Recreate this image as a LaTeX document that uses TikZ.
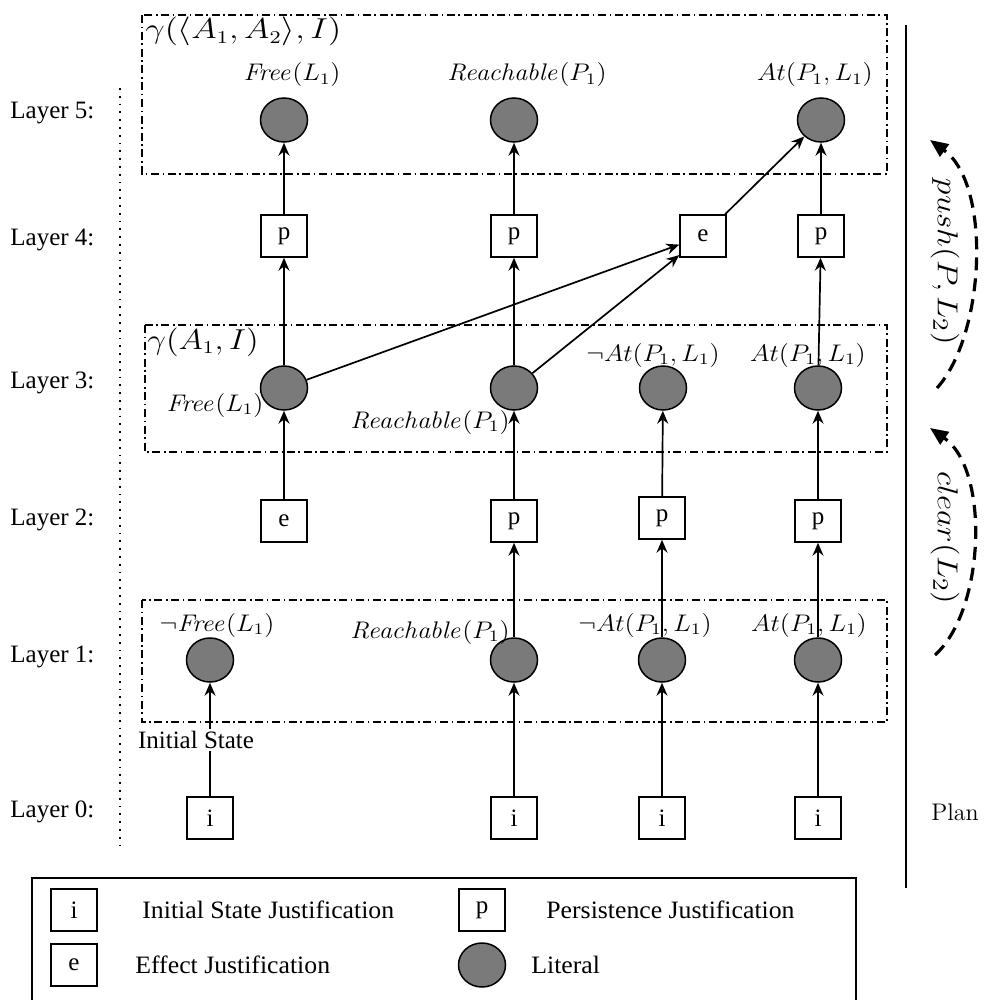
\documentclass[tikz,border=0pt]{standalone}
\usepackage[no-math]{fontspec}
\usepackage{graphicx}
\usetikzlibrary{shapes.geometric,arrows.meta}
\newfontfamily\tim{Liberation Serif}
\newcommand\hsc[2]{\scalebox{#1}[1]{#2}}
\newcommand\lt[1]{\hsc{1.1}{$#1$}}
\begin{document}
\begin{tikzpicture}[x=0.5pt,y=-0.5pt,
  arr/.style={-{Stealth[length=6.5pt,width=5.5pt,inset=2.2pt]}, line width=0.85pt},
  lit/.style={ellipse, draw, line width=0.75pt, fill=black!52, minimum width=23.5pt, minimum height=22pt, inner sep=0pt},
  jbox/.style={rectangle, draw, line width=0.75pt, fill=white, minimum width=23pt, minimum height=21pt, inner sep=0pt, font=\tim\fontsize{12.5}{14}\selectfont},
  lab/.style={inner sep=0pt, font=\fontsize{11.5}{13}\selectfont},
  glab/.style={inner sep=0pt, font=\fontsize{13.5}{16}\selectfont},
  layer/.style={anchor=west, inner sep=0pt, font=\tim\fontsize{12.5}{14}\selectfont},
  legtext/.style={anchor=west, inner sep=0pt, font=\tim\fontsize{12.5}{14}\selectfont},
  region/.style={draw, line width=0.75pt, dash pattern=on 4pt off 1.8pt on 0.8pt off 1.8pt},
  dotline/.style={line width=0.9pt, dash pattern=on 0.9pt off 3pt},
  curv/.style={line width=1.6pt, dash pattern=on 6.5pt off 4pt, -{Triangle[length=9pt,width=7.5pt]}},
  rot/.style={inner sep=0pt, rotate=-90, font=\fontsize{15}{18}\selectfont},
]
\useasboundingbox (0,0) rectangle (994,1000);

% layer labels
\node[layer] (ly5) at (10,113) {Layer 5:};
\node[layer] (ly4) at (10,240) {Layer 4:};
\node[layer] (ly3) at (10,383) {Layer 3:};
\node[layer] (ly2) at (10,520) {Layer 2:};
\node[layer] (ly1) at (10,657) {Layer 1:};
\node[layer] (ly0) at (10,812) {Layer 0:};

% dotted separator
\coordinate (dt) at (120,88);
\coordinate (db) at (120,845);
\draw[dotline] (dt) -- (db);

% regions
\draw[region] (142,15) rectangle (887,174);
\draw[region] (145,325) rectangle (887,452);
\draw[region] (142,600) rectangle (887,722);
\node[glab, anchor=north west] (g2) at (145,17) {\hsc{1.2}{$\gamma(\langle A_1, A_2\rangle, I)$}};
\node[glab, anchor=north west] (g1) at (147,327) {\hsc{1.15}{$\gamma(A_1, I)$}};

% layer 5
\node[lit] (l5a) at (284,120) {};
\node[lit] (l5b) at (514,120) {};
\node[lit] (l5d) at (821,120) {};
% layer 4
\node[jbox] (b4a) at (284,236) {p};
\node[jbox] (b4b) at (514,236) {p};
\node[jbox] (b4c) at (703,236) {e};
\node[jbox] (b4d) at (821,236) {p};
% layer 3
\node[lit] (l3a) at (284,388) {};
\node[lit] (l3b) at (514,388) {};
\node[lit] (l3c) at (663,388) {};
\node[lit] (l3d) at (818,388) {};
% layer 2
\node[jbox] (b2a) at (284,521) {e};
\node[jbox] (b2b) at (514,521) {p};
\node[jbox] (b2c) at (662,518) {p};
\node[jbox] (b2d) at (818,521) {p};
% layer 1
\node[lit] (l1a) at (210,660) {};
\node[lit] (l1b) at (514,660) {};
\node[lit] (l1c) at (662,660) {};
\node[lit] (l1d) at (818,660) {};
% layer 0
\node[jbox] (b0a) at (210,818) {i};
\node[jbox] (b0b) at (514,818) {i};
\node[jbox] (b0c) at (662,818) {i};
\node[jbox] (b0d) at (818,818) {i};

% connectors
\draw[arr] (b0a) -- (l1a);
\draw[arr] (b0b) -- (l1b);
\draw[arr] (b0c) -- (l1c);
\draw[arr] (b0d) -- (l1d);
\draw[arr] (l1b) -- (b2b);
\draw[arr] (l1c) -- (b2c);
\draw[arr] (l1d) -- (b2d);
\draw[arr] (b2a) -- (l3a);
\draw[arr] (b2b) -- (l3b);
\draw[arr] (b2c) -- (l3c);
\draw[arr] (b2d) -- (l3d);
\draw[arr] (l3a) -- (b4a);
\draw[arr] (l3a) -- (b4c);
\draw[arr] (l3b) -- (b4b);
\draw[arr] (l3b) -- (b4c);
\draw[arr] (l3d) -- (b4d);
\draw[arr] (b4a) -- (l5a);
\draw[arr] (b4b) -- (l5b);
\draw[arr] (b4c) -- (l5d);
\draw[arr] (b4d) -- (l5d);

\node[fill=white, inner sep=1pt, font=\tim\fontsize{12.5}{14}\selectfont] (init) at (196,740) {Initial State};

% literal labels
\node[lab] (t5a) at (292,75) {\lt{\mathit{Free}(L_1)}};
\node[lab] (t5b) at (527,75) {\lt{\mathit{Reachable}(P_1)}};
\node[lab] (t5d) at (815,75) {\lt{At(P_1,L_1)}};
\node[lab] (t3a) at (215,405) {\lt{\mathit{Free}(L_1)}};
\node[lab] (t3b) at (430,422) {\lt{\mathit{Reachable}(P_1)}};
\node[lab] (t3c) at (653,355) {\lt{\neg At(P_1,L_1)}};
\node[lab] (t3d) at (808,355) {\lt{At(P_1,L_1)}};
\node[lab] (t1a) at (217,625) {\lt{\neg\mathit{Free}(L_1)}};
\node[lab] (t1b) at (430,632) {\lt{\mathit{Reachable}(P_1)}};
\node[lab] (t1c) at (645,625) {\lt{\neg At(P_1,L_1)}};
\node[lab] (t1d) at (809,625) {\lt{At(P_1,L_1)}};

% plan side
\coordinate (pt) at (906,25);
\coordinate (pb) at (906,888);
\draw[line width=0.8pt] (pt) -- (pb);
\node[font=\fontsize{12}{14}\selectfont, inner sep=0pt] (plan) at (955,812) {Plan};
\coordinate (ps) at (937,388);
\coordinate (pe) at (930,140);
\draw[curv] (ps) .. controls (985,335) and (992,185) .. (pe);
\node[rot] (push) at (945,262) {\hsc{1.15}{$push(P,L_2)$}};
\coordinate (cs) at (935,655);
\coordinate (ce) at (930,428);
\draw[curv] (cs) .. controls (985,610) and (990,470) .. (ce);
\node[rot] (clear) at (945,538) {\hsc{1.15}{$clear(L_2)$}};

% legend
\draw[line width=0.8pt] (32,878) rectangle (856,1001);
\node[jbox] (li) at (74,910) {i};
\node[legtext] (lti) at (142,910) {\hsc{1.03}{Initial State Justification}};
\node[jbox] (lp) at (482,910) {p};
\node[legtext] (ltp) at (546,910) {\hsc{1.03}{Persistence Justification}};
\node[jbox] (le) at (74,965) {e};
\node[legtext] (lte) at (135,965) {\hsc{1.03}{Effect Justification}};
\node[lit] (ll) at (482,965) {};
\node[legtext] (ltl) at (531,965) {\hsc{1.03}{Literal}};
\end{tikzpicture}
\end{document}
